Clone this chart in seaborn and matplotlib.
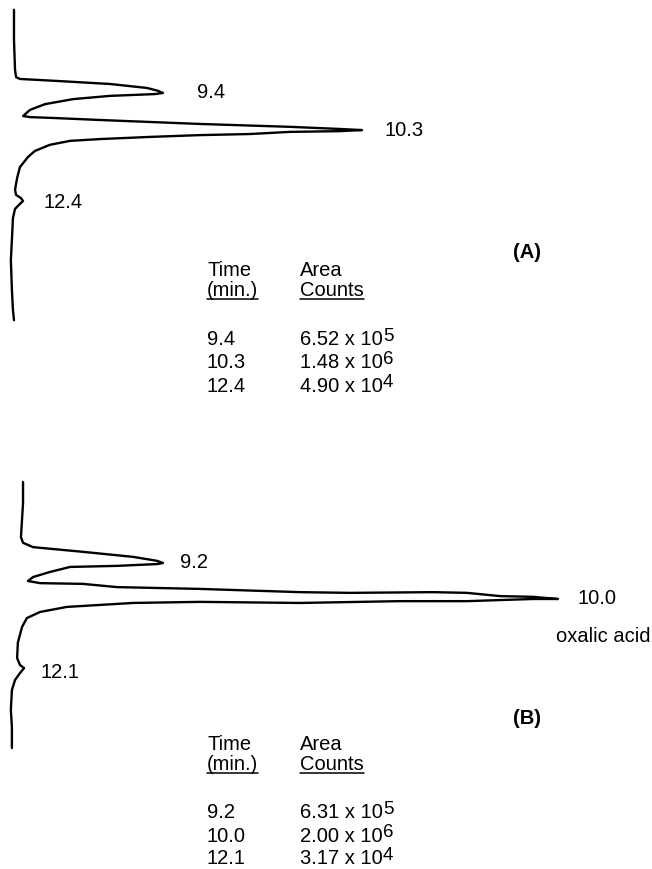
# Ion chromatograms (A) and (B) with peak table
import numpy as np
import matplotlib.pyplot as plt
from matplotlib.text import Annotation
import seaborn as sns

# --- trace A: detector response (arb. units) vs retention time (min) ---
resp_a = [0, 0, 0.3, 0.6, 1.7, 13.2, 27.6, 38.2, 41.4, 42.8, 40.5, 27.6, 17.0, 8.9, 4.6,
          2.6, 4.6, 10.3, 24.7, 53.4, 79.3, 93.7, 100.0, 93.7, 79.3, 67.8, 53.4, 39.1,
          24.7, 16.1, 10.3, 6.0, 4.0, 1.7, 0.9, 0.3, 0.6, 2.0, 2.6, 1.4, 0.3, -0.3, -0.6,
          -0.9, -0.6, -0.3, 0]
time_a = [7.09, 7.93, 8.76, 8.96, 9.01, 9.07, 9.15, 9.26, 9.34, 9.40, 9.43, 9.48, 9.57,
          9.71, 9.87, 10.04, 10.07, 10.09, 10.15, 10.26, 10.34, 10.40, 10.43, 10.46, 10.48,
          10.54, 10.57, 10.62, 10.68, 10.73, 10.84, 11.01, 11.18, 11.46, 11.76, 12.09,
          12.23, 12.32, 12.40, 12.51, 12.62, 12.87, 13.48, 14.04, 14.87, 15.43, 15.71]

# --- trace B ---
resp_b = [2.6, 2.6, 2.0, 2.6, 5.5, 19.8, 34.2, 41.1, 42.8, 41.1, 29.6, 16.1, 10.3, 5.5,
          4.0, 7.5, 19.8, 29.6, 53.4, 82.2, 96.6, 120.4, 130.2, 139.7, 149.1, 156.3,
          149.1, 130.2, 110.9, 82.2, 53.4, 34.2, 15.2, 7.5, 3.7, 2.3, 1.1, 0.9, 1.7, 2.9,
          1.7, 0.3, -0.6, -0.9, -0.6, -0.6]
time_b = [6.95, 7.53, 8.48, 8.64, 8.76, 8.89, 9.03, 9.14, 9.20, 9.23, 9.28, 9.31, 9.45,
          9.59, 9.70, 9.76, 9.78, 9.87, 9.92, 10.01, 10.03, 10.01, 10.03, 10.12, 10.14,
          10.20, 10.20, 10.26, 10.26, 10.31, 10.28, 10.31, 10.42, 10.56, 10.73, 10.98,
          11.42, 11.84, 12.03, 12.12, 12.26, 12.45, 12.73, 13.28, 13.76, 14.34]

# peak labels and table values
peaks_a = ["9.4", "10.3", "12.4"]
peaks_b = ["9.2", "10.0", "12.1"]
windows_a = [(9.2, 9.6), (10.2, 10.6), (12.2, 12.6)]
windows_b = [(9.0, 9.4), (10.0, 10.4), (11.9, 12.3)]
area_a = ["6.52", "1.48", "4.90"]
exp_a = ["5", "6", "4"]
area_b = ["6.31", "2.00", "3.17"]
exp_b = ["5", "6", "4"]

sns.set_style("white")
plt.rcParams["font.family"] = ["Liberation Sans", "DejaVu Sans"]
plt.rcParams["text.color"] = "black"

W, H = 652, 869
fig = plt.figure(figsize=(W / 100, H / 100), dpi=100)
axA = fig.add_axes([0, 0.5, 1, 0.5])
axB = fig.add_axes([0, 0, 1, 0.5])

for ax, r, t in [(axA, resp_a, time_a), (axB, resp_b, time_b)]:
    sns.lineplot(x=r, y=t, sort=False, estimator=None, color="black", lw=1.7, ax=ax)
    ax.set_xlim(-4.02, 183.33)
    ax.axis("off")
axA.set_ylim(18.886, 6.817)
axB.set_ylim(17.70, 5.631)


def label_peaks(ax, r, t, names, windows, offsets):
    r = np.array(r)
    t = np.array(t)
    for name, (lo, hi), (dx, dy) in zip(names, windows, offsets):
        m = (t >= lo) & (t <= hi)
        i = np.argmax(np.where(m, r, -1e9))
        ax.annotate(name, xy=(r[i], t[i]), xytext=(dx, dy), textcoords="offset points",
                    ha="left", va="center", fontsize=14.5, color="black")


label_peaks(axA, resp_a, time_a, peaks_a, windows_a, [(24.5, 0.5), (16.5, -0.5), (14.5, -1)])
label_peaks(axB, resp_b, time_b, peaks_b, windows_b, [(12, 0), (14, 0.5), (11.5, -3)])
fig.text(651 / W, 1 - 637 / H, "oxalic acid", ha="right", va="center", fontsize=14.5)


def txt(x, y, s, **kw):
    return fig.text(x / W, 1 - y / H, s, va="center", fontsize=14.5, **kw)


def underline(t):
    fig.canvas.draw()
    bb = t.get_window_extent()
    fig.add_artist(plt.Line2D([bb.x0, bb.x1], [bb.y0 + 1, bb.y0 + 1], transform=None,
                              color="black", lw=1.1))


def table(y0, letter_y, letter, times, areas, exps):
    txt(513, letter_y, letter, fontweight="bold")
    txt(207, y0, "Time")
    txt(300, y0, "Area")
    underline(txt(207, y0 + 20, "(min.)"))
    underline(txt(300, y0 + 20, "Counts"))
    for k, (tm, a, e) in enumerate(zip(times, areas, exps)):
        yy = y0 + 69 + 23 * k
        txt(207, yy, tm)
        base = txt(300, yy, a + " x 10")
        fig.add_artist(Annotation(e, xy=(1, 0), xycoords=base, xytext=(0, 3.5),
                                  textcoords="offset points", va="bottom", ha="left",
                                  fontsize=13.5, color="black"))


table(271, 253, "(A)", peaks_a, area_a, exp_a)
table(744, 719, "(B)", peaks_b, area_b, exp_b)

fig.savefig("out.png", dpi=100)
